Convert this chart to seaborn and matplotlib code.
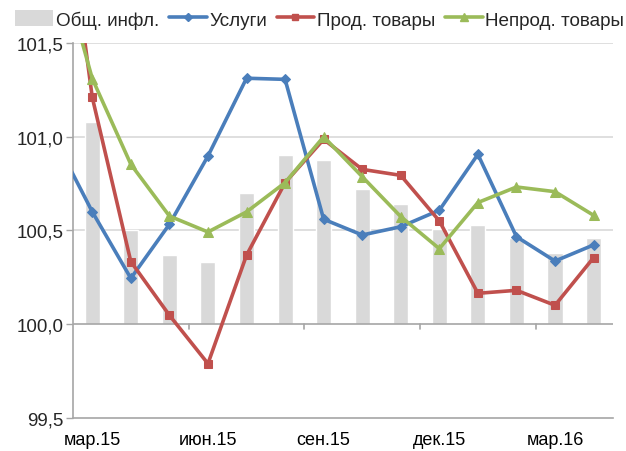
import matplotlib.pyplot as plt
import numpy as np
import pandas as pd
import seaborn as sns
from matplotlib.patches import Patch
from matplotlib.lines import Line2D
from matplotlib.ticker import FuncFormatter

# месяцы (фев.15 только для линий, он за левой границей)
months = ['мар.15', 'апр.15', 'май.15', 'июн.15', 'июл.15', 'авг.15', 'сен.15',
          'окт.15', 'ноя.15', 'дек.15', 'янв.16', 'фев.16', 'мар.16', 'апр.16']
tick_months = ['мар.15', 'июн.15', 'сен.15', 'дек.15', 'мар.16']

# общая инфляция (столбики)
infl = [101.08, 100.50, 100.37, 100.33, 100.70, 100.90, 100.875,
        100.72, 100.64, 100.51, 100.53, 100.46, 100.38, 100.46]

# линии: первое значение - фев.15
uslugi = [101.00, 100.60, 100.245, 100.533, 100.897, 101.312, 101.306, 100.56,
          100.476, 100.52, 100.608, 100.906, 100.467, 100.337, 100.423]
prod = [102.75, 101.21, 100.334, 100.048, 99.79, 100.368, 100.755, 100.986,
        100.826, 100.794, 100.551, 100.165, 100.181, 100.101, 100.355]
neprod = [102.05, 101.31, 100.853, 100.577, 100.492, 100.599, 100.755, 101.00,
          100.787, 100.574, 100.403, 100.649, 100.732, 100.707, 100.581]

c_bar = '#d9d9d9'
c_usl = '#4a7ebb'
c_prod = '#c0504d'
c_neprod = '#9bbb59'
c_axis = '#a6a6a6'

sns.set_style('white')
plt.rcParams['font.family'] = ['Liberation Sans', 'DejaVu Sans']

fig = plt.figure(figsize=(6.26, 4.52), dpi=100)
ax = fig.add_axes([0.1166, 0.073, 0.8624, 0.8297])

df_bar = pd.DataFrame({'month': months, 'val': infl})
df_bar['h'] = df_bar['val'] - 100
sns.barplot(data=df_bar, x='month', y='h', bottom=100, color=c_bar, width=0.39,
            saturation=1, ax=ax, zorder=1)

xpos = np.arange(-1, len(months))
lines = pd.DataFrame({'x': xpos, 'Услуги': uslugi, 'Прод. товары': prod,
                      'Непрод. товары': neprod})
styles = [('Услуги', c_usl, 'D', 5.5), ('Прод. товары', c_prod, 's', 5.5),
          ('Непрод. товары', c_neprod, '^', 7)]
for name, col, mk, ms in styles:
    sns.lineplot(data=lines, x='x', y=name, color=col, marker=mk, markersize=ms,
                 markeredgecolor=col, linewidth=2.6, ax=ax, zorder=3)

ax.set_xlim(-0.5, len(months) - 0.5)
ax.set_ylim(99.5, 101.5)
ax.set_yticks([99.5, 100.0, 100.5, 101.0, 101.5])
ax.yaxis.set_major_formatter(FuncFormatter(lambda v, p: f'{v:.1f}'.replace('.', ',')))
for y in [100.5, 101.0, 101.5]:
    ax.axhline(y, color='#d9d9d9', linewidth=1.2, zorder=0)
ax.axhline(100.0, color=c_axis, linewidth=1.2, zorder=2)

tick_idx = [months.index(m) for m in tick_months]
ax.set_xticks(tick_idx)
ax.set_xticklabels(tick_months)
ax.tick_params(axis='x', length=0, pad=9, labelsize=13, colors='black')
ax.tick_params(axis='y', length=5, width=1, color=c_axis, labelsize=13.5,
               left=True, pad=2)
# маленькие деления на оси 100
for i in tick_idx[1:]:
    ax.plot([i - 0.5, i - 0.5], [100.0, 99.975], color=c_axis, linewidth=1.2,
            zorder=2, clip_on=False)

ax.set_xlabel('')
ax.set_ylabel('')
for s in ['top', 'right']:
    ax.spines[s].set_visible(False)
for s in ['left', 'bottom']:
    ax.spines[s].set_color(c_axis)
    ax.spines[s].set_linewidth(1.2)

handles = [Patch(facecolor=c_bar, edgecolor='none', label='Общ. инфл.')]
for name, col, mk, ms in styles:
    handles.append(Line2D([], [], color=col, marker=mk, markersize=ms - 1,
                          linewidth=2.6, label=name))
fig.legend(handles=handles, loc='center', bbox_to_anchor=(0.511, 0.955), ncol=4,
           frameon=False, fontsize=13.6, handlelength=2.0, handleheight=0.9,
           columnspacing=0.5, handletextpad=0.15, borderaxespad=0)

fig.savefig('out.png', dpi=100)
